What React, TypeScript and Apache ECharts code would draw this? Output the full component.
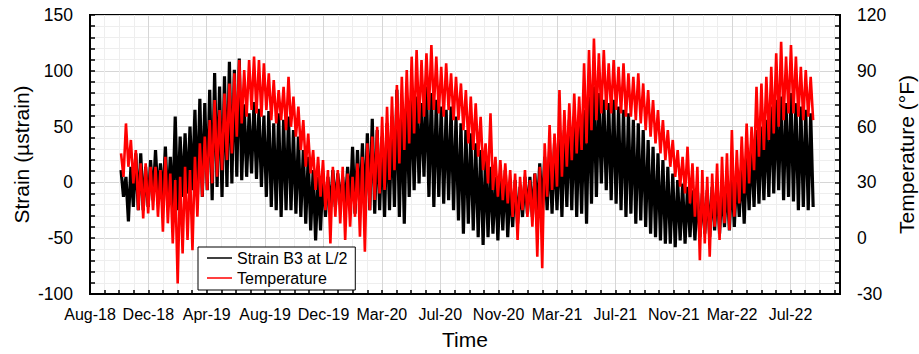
import React, { useEffect, useRef } from 'react';
import * as echarts from 'echarts';

// Time axis: days counted from 15 Aug 2018
const axisStartUTC = Date.UTC(2018, 7, 15);
const axisMaxDay = 1522.5;
const minorStepDays = 29.625;
const monthNames = ['Jan', 'Feb', 'Mar', 'Apr', 'May', 'Jun', 'Jul', 'Aug', 'Sep', 'Oct', 'Nov', 'Dec'];

// Record sampled every 10 days starting at day 63 (mid-Oct 2018); each step has a high then a low reading
const firstDay = 63;
const stepDays = 10;

const strainHigh = [
  11, 5, 14, 26, 26, 14, 20, 29, 17, 32,
  23, 59, 41, 44, 50, 65, 75, 71, 83, 98,
  86, 95, 108, 101, 111, 70, 62, 72, 66, 60,
  64, 53, 62, 56, 59, 47, 41, 29, 23, 11,
  5, 8, 5, 11, 8, 5, 14, 32, 29, 35,
  44, 57, 47, 41, 53, 59, 83, 65, 74, 80,
  77, 71, 86, 80, 74, 68, 65, 68, 59, 53,
  47, 44, 35, 29, 23, 14, 5, 8, 11, -1,
  2, -4, 5, 5, 8, 17, 23, 29, 35, 41,
  47, 56, 59, 56, 65, 77, 86, 80, 74, 71,
  74, 68, 65, 62, 56, 53, 47, 38, 32, 26,
  20, 14, 8, 2, -1, -4, -7, -7, -10, -7,
  -4, -1, -4, 2, 8, 11, 17, 26, 35, 47,
  50, 56, 68, 74, 77, 71, 80, 71, 68, 65, 62,
];
const strainLow = [
  -13, -35, -22, -25, -25, -22, -16, -13, -16, -22,
  -25, -25, -13, -10, -7, -13, -13, -7, -16, -4,
  -13, -4, -1, 5, 2, 5, 8, 3, -4, -13,
  -22, -25, -31, -25, -25, -28, -31, -37, -43, -52,
  -43, -31, -25, -22, -19, -22, -25, -28, -25, -28,
  -25, -28, -25, -31, -25, -22, -31, -37, -13, -7,
  -1, 5, -13, -22, -13, -19, -16, -25, -34, -46,
  -37, -43, -49, -56, -49, -46, -52, -43, -49, -40,
  -37, -31, -28, -31, -25, -28, -25, -28, -25, -31,
  -22, -25, -31, -28, -37, -19, -13, -1, -7, -16,
  -19, -25, -31, -28, -37, -34, -40, -46, -49, -52,
  -55, -55, -58, -52, -55, -49, -52, -49, -46, -49,
  -43, -46, -40, -43, -40, -31, -37, -25, -22, -19,
  -16, -13, -10, -7, -16, -13, -17, -25, -22, -25, -22,
];
const tempHigh = [
  45.6, 61.7, 52.8, 47.4, 40.2, 40.2, 38.4, 38.4, 36.6, 43.8,
  34.8, 31.3, 33, 38.4, 36.6, 43.8, 51, 54.6, 63.5, 74.3,
  68.9, 77.8, 83.2, 88.6, 95.8, 90.4, 95.8, 97.6, 95.8, 94,
  88.6, 85, 79.6, 81.4, 86.8, 76.1, 70.7, 63.5, 56.3, 47.4,
  43.8, 42, 36.6, 38.4, 36.6, 38.4, 34.8, 33, 40.2, 43.8,
  51, 54.6, 59.9, 65.3, 70.7, 76.1, 82.3, 86.8, 90.4, 97.6,
  101.1, 95.8, 99.4, 103.8, 97.6, 92.2, 94, 88.6, 86.8, 83.2,
  79.6, 76.1, 72.5, 65.3, 51, 67.1, 43.8, 42, 40.2, 36.6,
  34.8, 33, 36.6, 31.3, 34.8, 38.4, 51, 60.8, 56.3, 79.6,
  68.9, 72.5, 77.8, 76.1, 94, 101.1, 107.4, 99.4, 101.1, 94,
  95.8, 92.2, 94, 88.6, 86.8, 88.6, 83.2, 79.6, 74.3, 68.9,
  63.5, 58.1, 52.8, 47.4, 43.8, 49.2, 40.2, 38.4, 36.6, 33,
  34.8, 40.2, 43.8, 45.6, 58.1, 47.4, 54.6, 61.7, 59.9, 81.4,
  83.2, 86.8, 92.2, 99.4, 105.6, 97.6, 103.8, 97.6, 92.2, 90.4, 86.8,
];
const tempLow = [
  33, 38.4, 29.5, 15.1, 10.6, 13.3, 15.1, 11.5, 3.5, 8,
  -2.8, -24.3, -8.2, -1, -6.4, 11.5, 22.3, 25.9, 29.5, 33,
  36.6, 42, 45.6, 54.6, 61.7, 65.3, 68.9, 67.1, 65.3, 68.9,
  63.5, 61.7, 63.5, 58.1, 59.9, 54.6, 47.4, 38.4, 34.8, 25.9,
  22.3, 15.1, -2.8, 11.5, 8, -1, 6.2, 11.5, 0.8, -7.3,
  15.1, 20.5, 24.1, 25.9, 31.3, 36.6, 40.2, 47.4, 51, 56.3,
  61.7, 65.3, 68.9, 68.9, 67.1, 65.3, 68.9, 63.5, 63.5, 58.1,
  51, 47.4, 43.8, 36.6, 29.5, 25.9, 22.3, 20.5, 18.7, 11.5,
  -1, 15.1, 11.5, 6.2, -10, -16.2, 22.3, 25.9, 27.7, 33,
  38.4, 42, 45.6, 47.4, 51, 58.1, 63.5, 67.1, 68.9, 67.1,
  68.9, 67.1, 65.3, 65.3, 63.5, 61.7, 58.1, 54.6, 51, 45.6,
  42, 38.4, 33, 27.7, 24.1, 18.7, 11.5, -11.8, -2.8, -10,
  6.2, -1, 8, 4.4, 11.5, 18.7, 24.1, 29.5, 36.6, 43.8,
  47.4, 52.8, 56.3, 59.9, 63.5, 67.1, 67.1, 65.3, 63.5, 65.3, 63.5,
];

const strainName = 'Strain B3 at L/2';
const tempName = 'Temperature';

function buildPairs(high: number[], low: number[]): number[][] {
  const out: number[][] = [];
  for (let k = 0; k < high.length; k++) {
    const d = firstDay + k * stepDays;
    out.push([d, high[k]]);
    out.push([d + stepDays / 2, low[k]]);
  }
  return out;
}

function dayLabel(v: number): string {
  const n = Math.round(v / minorStepDays);
  if (Math.abs(v - n * minorStepDays) > 0.01 || n % 4 !== 0) return '';
  const dt = new Date(axisStartUTC + v * 86400000);
  const yy = String(dt.getUTCFullYear() % 100).padStart(2, '0');
  return monthNames[dt.getUTCMonth()] + '-' + yy;
}

const FONT = '"Liberation Sans", Arial, sans-serif';
const MAJOR = '#d6d6d6';
const MINOR = '#eeeeee';

export default function App() {
  const ref = useRef<HTMLDivElement>(null);
  useEffect(() => {
    if (!ref.current) return;
    const chart = echarts.init(ref.current, null, { renderer: 'svg' });
    const option: any = {
      animation: false,
      backgroundColor: '#ffffff',
      textStyle: { fontFamily: FONT, color: '#000' },
      grid: {
        left: 90, right: 79, top: 15, bottom: 60,
        containLabel: false,
        outerBoundsMode: 'none',
        show: true, borderColor: '#000', borderWidth: 2, backgroundColor: 'transparent',
      },
      legend: {
        orient: 'vertical',
        left: 198,
        top: 247,
        data: [
          { name: strainName, icon: 'rect' },
          { name: tempName, icon: 'rect' },
        ],
        itemWidth: 25,
        itemHeight: 1.5,
        itemGap: 0,
        align: 'left',
        padding: [1, 8, 2, 9],
        backgroundColor: '#ffffff',
        borderColor: '#000',
        borderWidth: 1,
        textStyle: { fontFamily: FONT, fontSize: 16, color: '#000', lineHeight: 20 },
      },
      xAxis: {
        type: 'value',
        min: 0,
        max: axisMaxDay,
        interval: minorStepDays,
        name: 'Time',
        nameLocation: 'middle',
        nameGap: 33,
        nameMoveOverlap: false,
        nameTextStyle: { fontFamily: FONT, fontSize: 21, color: '#000', lineHeight: 24 },
        axisLine: { onZero: false, lineStyle: { color: '#000', width: 2 } },
        axisTick: { inside: true, length: 4, lineStyle: { color: '#000', width: 1.5 } },
        axisLabel: {
          margin: 11, fontFamily: FONT, fontSize: 16, color: '#000', lineHeight: 18,
          formatter: (v: number) => dayLabel(v),
          showMaxLabel: false,
        },
        splitLine: { show: true, lineStyle: { color: [MAJOR, MINOR, MINOR, MINOR], width: 1 } },
      },
      yAxis: [
        {
          type: 'value',
          min: -100,
          max: 150,
          interval: 10,
          position: 'left',
          name: 'Strain (µstrain)',
          nameLocation: 'middle',
          nameRotate: 90,
          nameGap: 57,
          nameMoveOverlap: false,
          nameTextStyle: { fontFamily: FONT, fontSize: 21, color: '#000', lineHeight: 24 },
          axisLine: { show: true, onZero: false, lineStyle: { color: '#000', width: 2 } },
          axisTick: { show: true, inside: true, length: 5, lineStyle: { color: '#000', width: 1.5 } },
          axisLabel: {
            margin: 17, fontFamily: FONT, fontSize: 17.5, color: '#000',
            formatter: (v: number) => (Math.round(v) % 50 === 0 ? String(Math.round(v)) : ''),
          },
          splitLine: { show: true, lineStyle: { color: [MAJOR, MINOR, MINOR, MINOR, MINOR], width: 1 } },
        },
        {
          type: 'value',
          min: -30,
          max: 120,
          interval: 6,
          position: 'right',
          name: 'Temperature (°F)',
          nameLocation: 'middle',
          nameRotate: 90,
          nameGap: 54,
          nameMoveOverlap: false,
          nameTextStyle: { fontFamily: FONT, fontSize: 21, color: '#000', lineHeight: 24 },
          axisLine: { show: true, onZero: false, lineStyle: { color: '#000', width: 2 } },
          axisTick: { show: true, inside: true, length: 5, lineStyle: { color: '#000', width: 1.5 } },
          axisLabel: {
            margin: 17, fontFamily: FONT, fontSize: 17.5, color: '#000',
            formatter: (v: number) => (Math.round(v) % 30 === 0 ? String(Math.round(v)) : ''),
          },
          splitLine: { show: false },
        },
      ],
      series: [
        {
          name: strainName,
          type: 'line',
          yAxisIndex: 0,
          data: buildPairs(strainHigh, strainLow),
          showSymbol: false,
          symbol: 'none',
          color: '#000000',
          lineStyle: { color: '#000000', width: 3.2, join: 'bevel' },
          z: 2,
        },
        {
          name: tempName,
          type: 'line',
          yAxisIndex: 1,
          data: buildPairs(tempHigh, tempLow),
          showSymbol: false,
          symbol: 'none',
          color: '#ff0000',
          lineStyle: { color: '#ff0000', width: 2.6, join: 'bevel' },
          z: 3,
        },
      ],
    };
    chart.setOption(option);
    return () => chart.dispose();
  }, []);
  return <div ref={ref} style={{ position: 'fixed', left: 0, top: 0, width: 919, height: 354 }} />;
}
